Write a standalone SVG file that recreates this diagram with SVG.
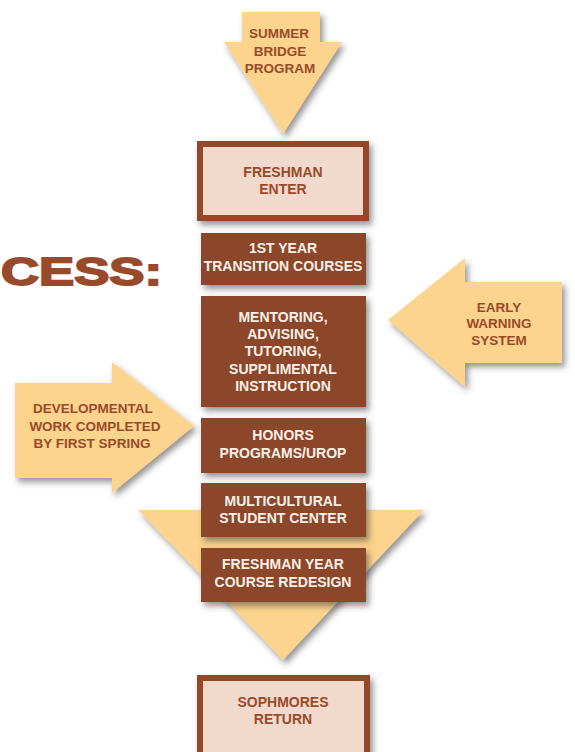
<svg xmlns="http://www.w3.org/2000/svg" width="575" height="752" viewBox="0 0 575 752">
<defs>
<filter id="sh" x="-20%" y="-20%" width="150%" height="150%">
<feDropShadow dx="3" dy="4" stdDeviation="3" flood-color="#3a3a3a" flood-opacity="0.55"/>
</filter>
</defs>
<style>
.arrow{fill:#fcd48d;filter:url(#sh)}
.box{fill:#8c472b;filter:url(#sh)}
.obox{fill:#f1dacb;stroke:#96472a;stroke-width:6;filter:url(#sh)}
.wt{font-family:"Liberation Sans",Arial,sans-serif;font-weight:bold;font-size:14px;fill:#fbf0e8;text-anchor:middle}
.bt{font-family:"Liberation Sans",Arial,sans-serif;font-weight:bold;font-size:14px;fill:#9a4a2b;text-anchor:middle}
.at{font-family:"Liberation Sans",Arial,sans-serif;font-weight:bold;font-size:13.5px;fill:#9a4a2b;text-anchor:middle}
</style>
<rect width="575" height="752" fill="#ffffff"/>
<text x="1" y="285" font-family="Liberation Sans,Arial,sans-serif" font-weight="900" font-size="38" fill="#994a2c" stroke="#994a2c" stroke-width="1.8" textLength="161" lengthAdjust="spacingAndGlyphs">CESS:</text>
<g id="connectors">
<polygon class="arrow" points="138,510 424,510 283,660"/>
</g>
<g id="summer-bridge">
<polygon class="arrow" points="242,12 320,12 320,42 342,42 283,134 224,42 242,42"/>
<text class="at" x="279" y="38">SUMMER</text>
<text class="at" x="280" y="56">BRIDGE</text>
<text class="at" x="280" y="73">PROGRAM</text>
</g>
<g id="developmental">
<polygon class="arrow" points="15,383 112,383 112,362 194,426 112,493 112,478 15,478"/>
<text class="at" x="93" y="413">DEVELOPMENTAL</text>
<text class="at" x="95" y="431">WORK COMPLETED</text>
<text class="at" x="92" y="448">BY FIRST SPRING</text>
</g>
<g id="early-warning">
<polygon class="arrow" points="562,282 465,282 465,258 388,320 465,387 465,363 562,363"/>
<text class="at" x="499" y="312">EARLY</text>
<text class="at" x="499" y="328">WARNING</text>
<text class="at" x="499" y="345">SYSTEM</text>
</g>
<g id="freshman-enter">
<rect class="obox" x="200" y="144" width="166" height="74"/>
<text class="bt" x="283" y="177">FRESHMAN</text>
<text class="bt" x="283" y="194">ENTER</text>
</g>
<g id="transition-courses">
<rect class="box" x="201" y="233" width="165" height="52"/>
<text class="wt" x="283" y="253">1ST YEAR</text>
<text class="wt" x="283" y="271">TRANSITION COURSES</text>
</g>
<g id="mentoring">
<rect class="box" x="201" y="296" width="165" height="111"/>
<text class="wt" x="283" y="322">MENTORING,</text>
<text class="wt" x="283" y="339">ADVISING,</text>
<text class="wt" x="283" y="356">TUTORING,</text>
<text class="wt" x="283" y="374">SUPPLIMENTAL</text>
<text class="wt" x="283" y="391">INSTRUCTION</text>
</g>
<g id="honors">
<rect class="box" x="201" y="418" width="165" height="55"/>
<text class="wt" x="283" y="440">HONORS</text>
<text class="wt" x="283" y="458">PROGRAMS/UROP</text>
</g>
<g id="multicultural">
<rect class="box" x="201" y="483" width="165" height="54"/>
<text class="wt" x="283" y="506">MULTICULTURAL</text>
<text class="wt" x="283" y="523">STUDENT CENTER</text>
</g>
<g id="course-redesign">
<rect class="box" x="201" y="548" width="165" height="54"/>
<text class="wt" x="283" y="569">FRESHMAN YEAR</text>
<text class="wt" x="283" y="587">COURSE REDESIGN</text>
</g>
<g id="sophomores-return">
<rect class="obox" x="200" y="678" width="167" height="80"/>
<text class="bt" x="283" y="707">SOPHMORES</text>
<text class="bt" x="283" y="724">RETURN</text>
</g>
</svg>
